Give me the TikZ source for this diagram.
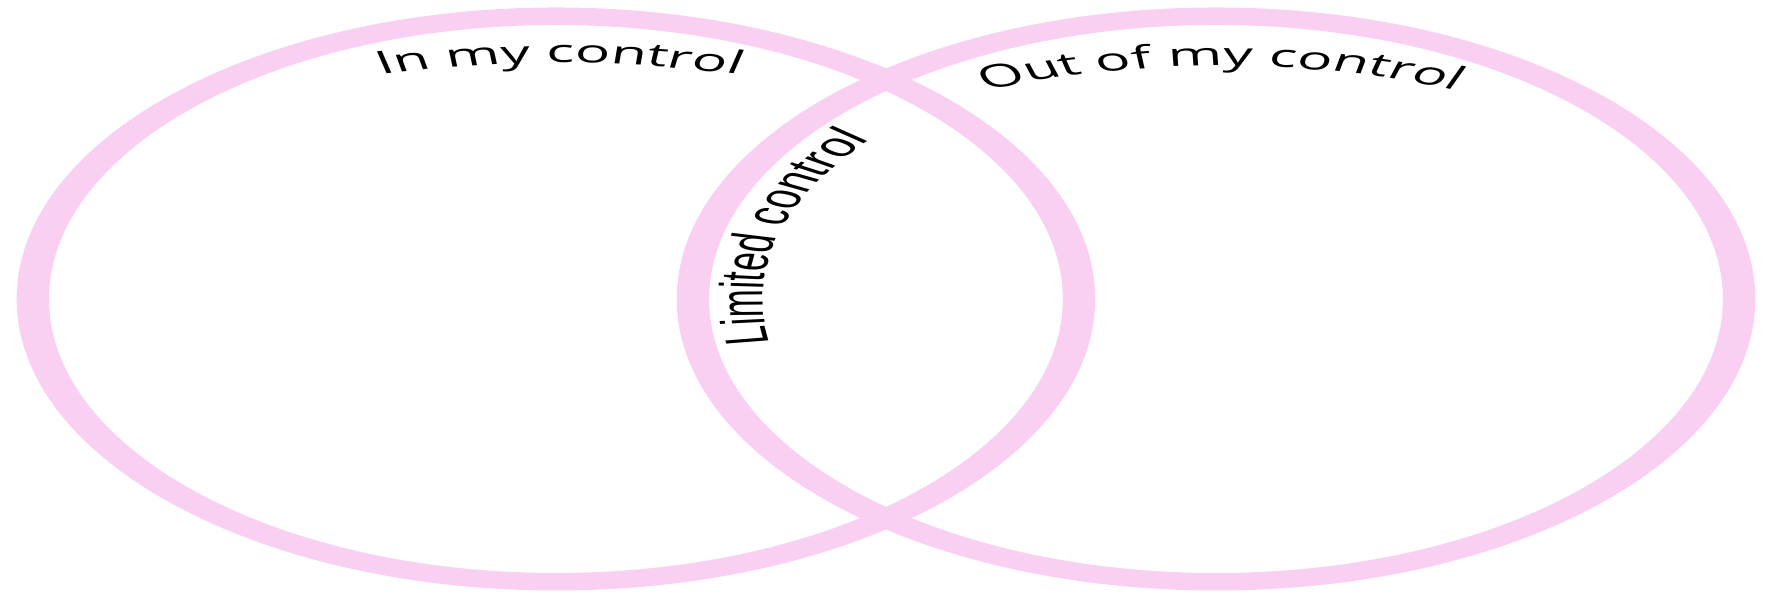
\documentclass[tikz,border=0pt]{standalone}
\usepackage{fontspec}
\newfontfamily\opensans{Open Sans}
\newfontfamily\libsans{Liberation Sans}
\usetikzlibrary{decorations.text}
\definecolor{vennpink}{RGB}{249,208,242}
\tikzset{ring/.style={fill=vennpink, even odd rule},
    arclabel/.style={decorate, decoration={text along path, text align=center,
        text={|\opensans\fontsize{9}{9}\selectfont|#1}}},
    sidelabel/.style={decorate, decoration={text along path, text align=center,
        text={|\libsans\fontsize{9.5}{9.5}\selectfont|#1}}}
}

\begin{document}
\begin{tikzpicture}
    \useasboundingbox[fill=white] (0,0) rectangle (17.66,5.93);
    % everything is drawn round and then stretched sideways
    \begin{scope}[transform canvas={xscale=1.85}]
    \coordinate (inside) at (3.005,2.94);
    \coordinate (outside) at (6.573,2.94);
    \coordinate (insidetop) at (3.027,1.30);
    \coordinate (outsidetop) at (6.60,1.84);

    \fill[ring] (inside) circle[radius=2.915] (inside) circle[radius=2.74];
    \fill[ring] (outside) circle[radius=2.915] (outside) circle[radius=2.74];

    \path[arclabel={In my control}] ([shift={(125:4.0)}]insidetop) arc[start angle=125, end angle=55, radius=4.0];
    \path[arclabel={Out of my control}] ([shift={(140:3.43)}]outsidetop) arc[start angle=140, end angle=40, radius=3.43];
    \path[sidelabel={Limited control}] ([shift={(200:2.45)}]outside) arc[start angle=200, end angle=130, radius=2.45];
    \end{scope}
\end{tikzpicture}
\end{document}
